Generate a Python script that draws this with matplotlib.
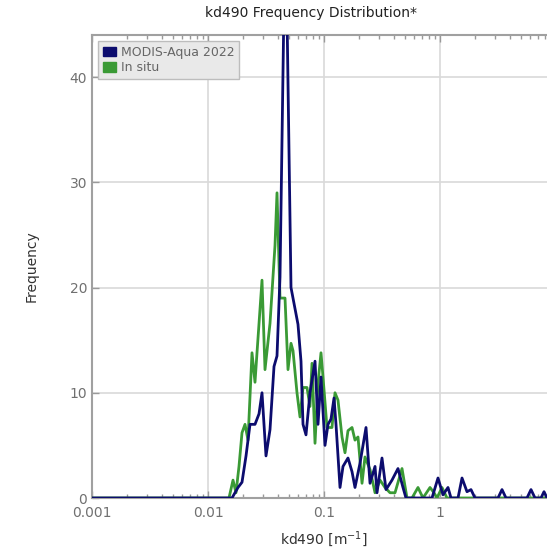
import matplotlib
matplotlib.use("Agg")
import matplotlib.pyplot as plt
from matplotlib.patches import Patch

# kd490 bin positions [m^-1] and counts
kd_modis = [0.001, 0.0161, 0.01814, 0.01964, 0.02127, 0.02302, 0.02542, 0.02753,
            0.02921, 0.03162, 0.03424, 0.03707, 0.03934, 0.04175, 0.04521, 0.04797,
            0.05194, 0.05623, 0.05968, 0.06334, 0.06592, 0.06995, 0.07572, 0.08366,
            0.08878, 0.09421, 0.1020, 0.1083, 0.1149, 0.1220, 0.1269, 0.1374,
            0.1458, 0.1610, 0.1744, 0.1850, 0.2043, 0.2302, 0.2493, 0.2753,
            0.2864, 0.3162, 0.3424, 0.3857, 0.4344, 0.4797, 0.5090, 0.8531,
            0.9612, 1.061, 1.172, 1.244, 1.430, 1.548, 1.709, 1.850, 2.003,
            3.162, 3.424, 3.707, 5.623, 6.088, 6.592, 7.425, 7.883, 8.366, 10.0]
freq_modis = [0, 0, 1, 1.5, 4, 7, 7, 8,
              10, 4, 6.5, 12.5, 13.5, 21, 47, 46,
              20, 18, 16.5, 13, 7, 6, 10, 13,
              7, 11.5, 5, 7, 7.5, 9.5, 7, 1,
              3, 3.8, 2.5, 1, 3.3, 6.7, 1.4, 3,
              0.5, 3.8, 0.8, 1.7, 2.8, 1, 0, 0,
              1.9, 0.3, 1, 0, 0, 1.9, 0.6, 0.8, 0,
              0, 0.8, 0, 0, 0.8, 0, 0, 0.6, 0, 0]

kd_insitu = [0.001, 0.01517, 0.01643, 0.01743, 0.01850, 0.01964, 0.02085, 0.02212,
             0.02395, 0.02542, 0.02645, 0.02921, 0.03100, 0.03424, 0.03781, 0.03934,
             0.04175, 0.04612, 0.04894, 0.05194, 0.05405, 0.05850, 0.06210, 0.06592,
             0.07135, 0.07572, 0.07880, 0.08366, 0.08878, 0.09421, 0.09804, 0.1061,
             0.1172, 0.1244, 0.1320, 0.1430, 0.1517, 0.1610, 0.1744, 0.1850,
             0.1964, 0.2127, 0.2256, 0.2493, 0.2753, 0.3040, 0.3357, 0.3707,
             0.4094, 0.4704, 0.5194, 0.5736, 0.6461, 0.7135, 0.8200, 0.8878,
             0.9421, 1.040, 1.149, 10.0]
freq_insitu = [0, 0, 1.7, 0.5, 3, 6.2, 7, 5.5,
               13.8, 11, 13.8, 20.7, 12.2, 16.6, 24, 29,
               19, 19, 12.2, 14.7, 14, 10, 7.7, 10.5,
               10.5, 8.7, 12.8, 5.2, 10.9, 13.8, 11.5, 6.7,
               6.7, 10, 9.3, 5.8, 4.3, 6.4, 6.7, 5.5,
               5.8, 1.4, 3.9, 2.7, 0.5, 1.7, 1, 0.5,
               0.5, 2.8, 0, 0, 1, 0, 1, 0.5,
               0, 1, 0, 0]

navy = "#0c0c6e"
green = "#3a9a35"
gray = "#707070"

fig = plt.figure(figsize=(5.47, 5.51), dpi=100)
# axes run a little past the right edge, as in the reference crop
ax = fig.add_axes([92 / 547, 53 / 551, 464 / 547, 463 / 551])

ax.plot(kd_insitu, freq_insitu, color=green, lw=2.0, zorder=3)
ax.plot(kd_modis, freq_modis, color=navy, lw=2.0, zorder=4)

ax.set_xscale("log")
ax.set_xlim(0.001, 10)
ax.set_ylim(0, 44)
ax.set_yticks([0, 10, 20, 30, 40])
ax.set_xticks([0.001, 0.01, 0.1, 1])
ax.set_xticklabels(["0.001", "0.01", "0.1", "1"])
ax.grid(True, which="major", color="#d9d9d9", lw=1.2)
ax.axvline(10, color="#d9d9d9", lw=1.2, zorder=0)
ax.set_axisbelow(True)

ax.tick_params(which="both", direction="in", top=True, right=True,
               colors="#999999", labelcolor=gray, labelsize=10)
ax.tick_params(axis="x", which="major", pad=6)
ax.tick_params(which="major", length=5, width=1)
ax.tick_params(which="minor", length=3, width=1)
for s in ax.spines.values():
    s.set_color("#a0a0a0")
    s.set_linewidth(1.5)

ax.set_xlabel("kd490 [m$^{-1}$]", fontsize=10, color="#333333", labelpad=6)
ax.set_ylabel("Frequency", fontsize=10, color="#333333", labelpad=22)
fig.text(311 / 547, 1 - 13 / 551, "kd490 Frequency Distribution*", ha="center",
         va="center", fontsize=10, color="#222222")

handles = [Patch(facecolor=navy, edgecolor=navy, label="MODIS-Aqua 2022"),
           Patch(facecolor=green, edgecolor=green, label="In situ")]
leg = ax.legend(handles=handles, loc="upper left", fontsize=9,
                frameon=True, fancybox=False, borderaxespad=0.5,
                handlelength=1.1, handleheight=0.8, handletextpad=0.4,
                borderpad=0.35, labelspacing=0.2, labelcolor="#666666")
leg.get_frame().set_facecolor("#e9e9e9")
leg.get_frame().set_edgecolor("#bdbdbd")
leg.get_frame().set_alpha(1)

fig.savefig("out.png", dpi=100)
